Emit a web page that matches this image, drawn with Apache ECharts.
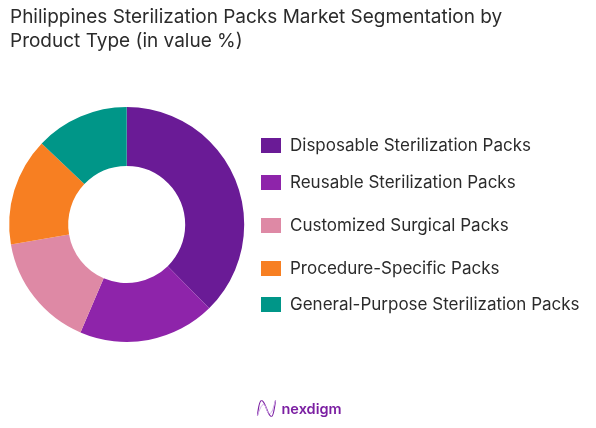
<!DOCTYPE html>
<html>
<head>
<meta charset="utf-8">
<title>Philippines Sterilization Packs</title>
<script src="https://cdn.jsdelivr.net/npm/echarts@6/dist/echarts.min.js"></script>
<style>
    html, body { margin: 0; padding: 0; background: #fff; }
    #main { width: 596px; height: 428px; }
</style>
</head>
<body>
    <div id="main"></div>
    <script type="text/javascript">
        var categories = ['Disposable Sterilization Packs', 'Reusable Sterilization Packs', 'Customized Surgical Packs', 'Procedure-Specific Packs', 'General-Purpose Sterilization Packs'];
        var shares = [38, 19, 16, 15, 13];
        var colors = ['#6a1b96', '#8e24aa', '#de89a5', '#f77f22', '#009688'];
        var legendTops = [132, 169, 212, 255, 291];
        var titleText = 'Philippines Sterilization Packs Market Segmentation by\nProduct Type (in value %)';
        var fontName = 'Inter';

        var pieData = [];
        var legends = [];
        for (var i = 0; i < categories.length; i++) {
            pieData.push({ name: categories[i], value: shares[i], itemStyle: { color: colors[i] } });
            legends.push({
                data: [categories[i]],
                left: 256,
                top: legendTops[i],
                itemWidth: 20,
                itemHeight: 15,
                itemGap: 0,
                icon: 'rect',
                selectedMode: false,
                textStyle: { fontFamily: fontName, fontSize: 17, color: '#2b2b2b', padding: [0, 0, 0, 4] }
            });
        }

        // logo strokes, dark then light
        function logoCurve(s, color, w) {
            return { type: 'bezierCurve', shape: s, style: { fill: 'none', stroke: color, lineWidth: w } };
        }

        var myChart = echarts.init(document.getElementById('main'), null, { renderer: 'canvas' });
        var option = {
            animation: false,
            backgroundColor: '#ffffff',
            title: {
                text: titleText,
                left: 5,
                top: 0,
                textStyle: { fontFamily: fontName, fontSize: 19, fontWeight: 'normal', color: '#2b2b2b', lineHeight: 24 }
            },
            legend: legends,
            series: [
                {
                    type: 'pie',
                    center: [126.7, 224.5],
                    radius: [58.5, 117.5],
                    startAngle: 90,
                    clockwise: true,
                    label: { show: false },
                    labelLine: { show: false },
                    data: pieData
                }
            ],
            graphic: [
                {
                    type: 'group',
                    left: 255,
                    top: 398,
                    children: [
                        logoCurve({ x1: 0, y1: 15, cpx1: 1, cpy1: 6, cpx2: 2, cpy2: 0, x2: 4, y2: 0 }, '#7b1fa2', 1.2),
                        logoCurve({ x1: 4, y1: 0, cpx1: 8, cpy1: 0, cpx2: 10, cpy2: 16, x2: 14, y2: 16 }, '#7b1fa2', 1.2),
                        logoCurve({ x1: 14, y1: 16, cpx1: 16, cpy1: 16, cpx2: 17, cpy2: 8, x2: 18, y2: 0 }, '#7b1fa2', 1.2),
                        logoCurve({ x1: 0, y1: 15, cpx1: 2, cpy1: 9, cpx2: 4, cpy2: 4, x2: 6, y2: 4 }, '#cfa8e6', 1),
                        logoCurve({ x1: 6, y1: 4, cpx1: 9, cpy1: 4, cpx2: 9, cpy2: 13, x2: 12, y2: 13 }, '#cfa8e6', 1),
                        logoCurve({ x1: 12, y1: 13, cpx1: 15, cpy1: 13, cpx2: 16, cpy2: 6, x2: 18, y2: 0 }, '#cfa8e6', 1),
                        { type: 'text', x: 24, y: 2, style: { text: 'nexdigm', fontFamily: 'Inter', fontSize: 14.5, fontWeight: 600, fill: '#7b1fa2' } }
                    ]
                }
            ]
        };
        myChart.setOption(option);
    </script>
</body>
</html>
